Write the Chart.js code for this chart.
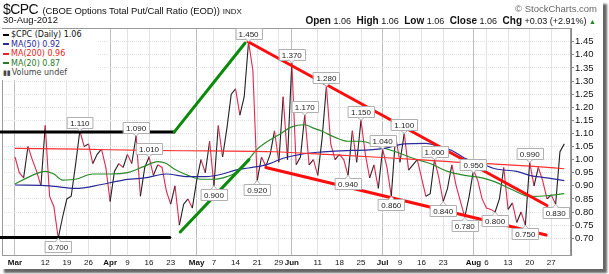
<!DOCTYPE html>
<html>
<head>
<meta charset="utf-8">
<script src="https://cdn.jsdelivr.net/npm/chart.js@4.4.1/dist/chart.umd.min.js"></script>
<style>
  body { margin: 0; background: #fff; }
  #frame {
    position: absolute; left: 0; top: 0; width: 603px; height: 269px;
    background: #fff; box-shadow: 4px 4px 2px #666;
    font-family: "Liberation Sans", Arial, sans-serif; color: #111;
  }
  #chartBox { position: absolute; left: 0; top: 0; width: 603px; height: 269px; }
  #title { position: absolute; left: 3px; top: 0px; white-space: nowrap; }
  #title .sym { font-size: 14px; letter-spacing: -0.6px; }
  #title .name { font-size: 9.5px; letter-spacing: -0.1px; }
  #title .ex { font-size: 8px; margin-left: 3px; }
  #copy { position: absolute; right: 6px; top: 3px; font-size: 9.5px; color: #666; }
  #date { position: absolute; left: 3px; top: 14px; font-size: 9.5px; }
  #quote { position: absolute; right: 7px; top: 15px; font-size: 9px; white-space: nowrap; }
  #quote b { font-size: 10px; margin-left: 3px; }
  #quote .up { color: #1a8a1a; font-size: 7px; }
  #legend {
    position: absolute; left: 2px; top: 29px; width: 96px; height: 51px;
    background: #fff; font-family: "DejaVu Sans", Verdana, sans-serif; font-size: 8px;
  }
  #legend div { height: 9.6px; line-height: 9.6px; white-space: nowrap; }
  #legend span.sw { display: inline-block; width: 6px; height: 2px; vertical-align: middle; margin: 0 2px 0 1px; }
</style>
</head>
<body>
<div id="frame">
  <div id="chartBox"><canvas id="cpcChart" width="603" height="269"></canvas></div>
  <div id="title"><span class="sym">$CPC</span> <span class="name">(CBOE Options Total Put/Call Ratio (EOD))</span><span class="ex">INDX</span></div>
  <div id="copy">© StockCharts.com</div>
  <div id="date">30-Aug-2012</div>
  <div id="quote"><b>Open</b> 1.06 <b>High</b> 1.06 <b>Low</b> 1.06 <b>Close</b> 1.06 <b>Chg</b> +0.03 (+2.91%) <span class="up">▲</span></div>
  <div id="legend">
    <div style="margin-top:1px"><span class="sw" style="background:#000"></span>$CPC (Daily) 1.06</div>
    <div style="color:#2a2a9a"><span class="sw" style="background:#2a2a9a"></span>MA(50) 0.92</div>
    <div style="color:#ee2222"><span class="sw" style="background:#ee2222"></span>MA(200) 0.96</div>
    <div style="color:#2a7a2a"><span class="sw" style="background:#2a7a2a"></span>MA(20) 0.87</div>
    <div style="color:#444"><span style="font-size:7px;margin:0 1px">▮▮</span>Volume undef</div>
  </div>
</div>
<script>
// trading day index 0 = 1-Mar-2012 ... 127 = 30-Aug-2012
const priceValues = [
  1.01, 0.95, 0.93, 1.05, 1.00, 0.955, 0.90, 1.13, 0.86, 0.82,
  0.70, 0.78, 0.85, 0.86, 0.98, 1.11, 1.05, 1.06, 0.985, 1.02,
  1.04, 0.97, 0.84, 0.955, 0.985, 0.97, 1.02, 0.985, 1.09, 0.86,
  0.97, 1.01, 0.94, 0.98, 0.97, 0.88, 0.83, 0.90, 0.75, 0.83,
  0.85, 0.815, 0.92, 1.00, 0.95, 1.07, 0.90, 1.13, 1.01, 1.12,
  1.25, 1.27, 1.17, 1.24, 1.45, 1.34, 0.92, 1.01, 0.975, 1.02,
  1.11, 0.99, 1.24, 1.00, 1.37, 0.98, 1.01, 1.17, 0.98, 1.00,
  0.94, 1.08, 1.28, 1.06, 1.00, 1.02, 1.00, 0.94, 1.11, 0.99,
  1.15, 1.02, 0.93, 0.98, 0.89, 1.04, 0.97, 0.86, 1.09, 0.99,
  1.10, 0.96, 0.98, 1.00, 0.93, 0.86, 0.87, 1.00, 0.93, 0.84,
  0.89, 0.98, 0.90, 0.84, 0.78, 0.86, 0.96, 0.92, 0.85, 0.815,
  0.81, 0.80, 0.85, 0.97, 0.81, 0.835, 0.76, 0.80, 0.75, 0.99,
  0.90, 0.97, 0.92, 0.85, 0.865, 0.83, 1.03, 1.06
];

const ma200Days   = [0, 15, 30, 45, 60, 72, 85, 95, 104, 111, 120, 127];
const ma200Values = [1.043, 1.04, 1.035, 1.033, 1.03, 1.02, 1.008, 0.998, 0.988, 0.983, 0.974, 0.965];

const ma50Days   = [0, 8, 14, 20, 25, 30, 35, 40, 44, 48, 51, 54, 58, 62, 66, 70, 74, 78, 82, 86, 90, 95, 98, 101, 104, 107, 111, 116, 119, 123, 127];
const ma50Values = [0.903, 0.90, 0.89, 0.905, 0.922, 0.93, 0.945, 0.935, 0.935, 0.945, 0.96, 0.968, 0.98, 1.005, 1.02, 1.028, 1.032, 1.035, 1.037, 1.045, 1.06, 1.062, 1.05, 1.035, 1.005, 0.99, 0.965, 0.955, 0.94, 0.93, 0.92];

const ma20Days   = [0, 4, 7, 9, 11, 14, 18, 22, 26, 30, 33, 35, 37, 40, 43, 46, 49, 51, 54, 56, 58, 61, 64, 67, 69, 71, 74, 77, 80, 84, 88, 92, 96, 100, 104, 108, 111, 115, 119, 123, 127];
const ma20Values = [0.907, 0.94, 0.955, 0.945, 0.922, 0.925, 0.945, 0.945, 0.95, 0.975, 0.992, 0.985, 0.962, 0.94, 0.925, 0.925, 0.935, 0.95, 1.0, 1.04, 1.065, 1.095, 1.125, 1.133, 1.12, 1.108, 1.085, 1.07, 1.07, 1.05, 1.03, 1.005, 0.985, 0.955, 0.94, 0.93, 0.915, 0.885, 0.86, 0.862, 0.87];

const tickDays   = [0, 7, 12, 17, 22, 26, 31, 36, 42, 46, 51, 56, 61, 64, 70, 75, 80, 85, 89, 94, 99, 106, 109, 114, 119, 124];
const tickLabels = ['Mar', '12', '19', '26', 'Apr', '9', '16', '23', 'May', '7', '14', '21', '29', 'Jun', '11', '18', '25', 'Jul', '9', '16', '23', 'Aug', '6', '13', '20', '27'];
const monthDays  = [0, 22, 42, 64, 85, 106];
const yTicks = [0.70, 0.75, 0.80, 0.85, 0.90, 0.95, 1.00, 1.05, 1.10, 1.15, 1.20, 1.25, 1.30, 1.35, 1.40, 1.45];

// value call-outs written on the chart
const calloutDays   = [15, 10, 28, 31, 46, 54, 56, 64, 67, 72, 77, 80, 85, 87, 90, 97, 99, 104, 106, 111, 118, 119, 125];
const calloutValues = [1.11, 0.70, 1.09, 1.01, 0.90, 1.45, 0.92, 1.37, 1.17, 1.28, 0.94, 1.15, 1.04, 0.86, 1.10, 1.00, 0.84, 0.78, 0.95, 0.80, 0.75, 0.99, 0.83];
const calloutAbove  = [1, 0, 1, 1, 0, 1, 0, 1, 1, 1, 0, 1, 1, 0, 1, 1, 0, 0, 1, 0, 0, 1, 0];

// hand-drawn trend lines (day index / ratio)
const trendStartDays   = [-3.5, -3.5, 36.8, 38.2, 53.9, 58.0];
const trendStartValues = [1.105, 0.703, 1.105, 0.724, 1.45, 0.97];
const trendEndDays     = [36.8, 35.8, 53.2, 54.1, 123.0, 122.8];
const trendEndValues   = [1.105, 0.703, 1.445, 1.00, 0.825, 0.712];
const trendColors = ['#000', '#000', '#0a8a0a', '#0a8a0a', '#ff0d0d', '#ff0d0d'];

function toPoints(days, values) {
    return days.map((d, i) => ({x: d, y: values[i]}));
}

const annotationPlugin = {
    id: 'annotations',
    beforeDatasetsDraw(chart) {
        const a = chart.chartArea, c = chart.ctx;
        c.save();
        c.strokeStyle = '#9a9a9a';
        c.lineWidth = 1;
        c.strokeRect(a.left + 0.5, a.top + 0.5, a.right - a.left - 1, a.bottom - a.top);
        c.restore();
    },
    afterDatasetsDraw(chart) {
        const xs = chart.scales.x, ys = chart.scales.y, c = chart.ctx;
        c.save();
        c.lineCap = 'round';
        for (let i = 0; i < trendStartDays.length; i++) {
            c.strokeStyle = trendColors[i];
            c.lineWidth = 3;
            c.beginPath();
            c.moveTo(xs.getPixelForValue(trendStartDays[i]), ys.getPixelForValue(trendStartValues[i]));
            c.lineTo(xs.getPixelForValue(trendEndDays[i]), ys.getPixelForValue(trendEndValues[i]));
            c.stroke();
        }
        c.font = '8px "Liberation Sans", Arial, sans-serif';
        c.textAlign = 'center';
        c.textBaseline = 'middle';
        for (let i = 0; i < calloutDays.length; i++) {
            const px = xs.getPixelForValue(calloutDays[i]);
            const py = ys.getPixelForValue(calloutValues[i]);
            const txt = calloutValues[i].toFixed(3);
            const w = c.measureText(txt).width + 6, h = 11;
            const up = calloutAbove[i] === 1;
            const top = up ? py - 3 - h : py + 3;
            const left = Math.round(px - w / 2) + 0.5;
            c.fillStyle = '#fff';
            c.strokeStyle = '#b0b0b0';
            c.lineWidth = 1;
            c.beginPath();
            c.rect(left, Math.round(top) + 0.5, w, h);
            c.fill();
            c.stroke();
            // little pointer towards the point
            c.beginPath();
            if (up) {
                c.moveTo(px - 3, top + h + 0.5); c.lineTo(px, py); c.lineTo(px + 3, top + h + 0.5);
            } else {
                c.moveTo(px - 3, top + 0.5); c.lineTo(px, py); c.lineTo(px + 3, top + 0.5);
            }
            c.fill();
            c.stroke();
            c.fillStyle = '#222';
            c.fillText(txt, px, Math.round(top) + h / 2 + 1);
        }
        c.restore();
    }
};

const ctx = document.getElementById('cpcChart').getContext('2d');
new Chart(ctx, {
    type: 'line',
    data: {
        datasets: [
            {
                label: 'MA(200)', data: toPoints(ma200Days, ma200Values),
                borderColor: '#ff3030', borderWidth: 1.2, pointRadius: 0, cubicInterpolationMode: 'monotone'
            },
            {
                label: 'MA(50)', data: toPoints(ma50Days, ma50Values),
                borderColor: '#2a2a9a', borderWidth: 1.2, pointRadius: 0, cubicInterpolationMode: 'monotone'
            },
            {
                label: 'MA(20)', data: toPoints(ma20Days, ma20Values),
                borderColor: '#2a8a2a', borderWidth: 1.2, pointRadius: 0, cubicInterpolationMode: 'monotone'
            },
            {
                label: '$CPC', data: priceValues.map((v, i) => ({x: i, y: v})),
                borderWidth: 1.1, pointRadius: 0, borderColor: '#222',
                segment: {
                    borderColor: s => s.p1.parsed.y >= s.p0.parsed.y ? '#222' : '#e0284f'
                }
            }
        ]
    },
    options: {
        responsive: false,
        animation: false,
        layout: { padding: { top: 28, left: 2, right: 0, bottom: 0 } },
        plugins: { legend: { display: false }, tooltip: { enabled: false } },
        scales: {
            x: {
                type: 'linear', min: -3, max: 128.55,
                afterBuildTicks: s => { s.ticks = tickDays.map(v => ({value: v})); },
                afterFit: s => { s.height = 14; },
                ticks: {
                    autoSkip: false, maxRotation: 0, padding: 3, color: '#111',
                    callback: (v, i) => tickLabels[i],
                    font: c => ({
                        family: '"Liberation Sans", Arial, sans-serif', size: 8,
                        weight: (c.tick && monthDays.includes(c.tick.value)) ? 'bold' : 'normal'
                    })
                },
                grid: {
                    drawTicks: false,
                    color: c => (c.tick && monthDays.includes(c.tick.value)) ? '#bdbdbd' : '#e3e3e3'
                },
                border: { color: '#9a9a9a' }
            },
            y: {
                position: 'right', min: 0.6359, max: 1.5023,
                afterBuildTicks: s => { s.ticks = yTicks.map(v => ({value: v})); },
                afterFit: s => { s.width = 32; },
                ticks: {
                    padding: 1, color: '#111',
                    font: { family: '"Liberation Sans", Arial, sans-serif', size: 9.5 },
                    callback: v => v.toFixed(2)
                },
                grid: { color: '#e3e3e3', tickLength: 3, tickColor: '#888' },
                border: { color: '#888', dash: [1, 1] }
            }
        }
    },
    plugins: [annotationPlugin]
});
</script>
</body>
</html>
